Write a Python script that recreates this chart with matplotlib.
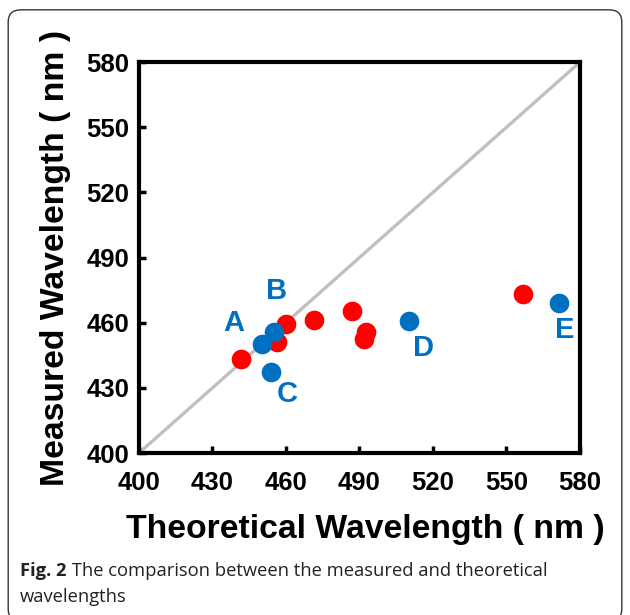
#!/usr/bin/env python3
"""Measured vs theoretical wavelength scatter (Fig. 2 recreation)."""

import matplotlib
matplotlib.use('Agg')
import matplotlib.pyplot as plt
from matplotlib.patches import FancyBboxPatch
from matplotlib.transforms import offset_copy

# red points (unlabelled samples)
red_theory = [441.5, 456.5, 459.9, 471.3, 487.0, 491.7, 492.7, 556.9]
red_measured = [443.4, 451.2, 459.5, 461.2, 465.5, 452.5, 455.5, 473.2]

# blue points with letter labels
blue_names = ['A', 'B', 'C', 'D', 'E']
blue_theory = [450.4, 455.1, 453.7, 510.1, 571.4]
blue_measured = [450.4, 455.5, 437.4, 460.9, 468.9]
# label offsets in points (dx, dy)
label_offsets = [(-21, 15), (2, 30), (12, -16), (10.5, -19.5), (4, -19.5)]

ticks = [400, 430, 460, 490, 520, 550, 580]

RED = '#ff0000'
BLUE = '#0070c0'
CAPTION = ['Open Sans', 'DejaVu Sans']

plt.rcParams['font.family'] = ['Liberation Sans', 'DejaVu Sans']

fig = plt.figure(figsize=(6.3, 6.15), dpi=100)
ax = fig.add_axes([0.2206, 0.2634, 0.7, 0.6356])

ax.plot([400, 580], [400, 580], color='#c0c0c0', lw=2.4, zorder=1)
ax.scatter(red_theory, red_measured, s=200, color=RED, lw=0, zorder=3)
ax.scatter(blue_theory, blue_measured, s=200, color=BLUE, lw=0, zorder=4)

for name, x, y, (dx, dy) in zip(blue_names, blue_theory, blue_measured, label_offsets):
    ax.annotate(name, (x, y), xytext=(dx, dy), textcoords='offset points',
                ha='center', va='center', fontsize=21, fontweight='bold',
                color=BLUE)

ax.set_xlim(400, 580)
ax.set_ylim(400, 580)
ax.set_xticks(ticks)
ax.set_yticks(ticks)
ax.tick_params(direction='in', length=5, width=2.5, labelsize=18.5)
ax.tick_params(axis='x', pad=13)
ax.tick_params(axis='y', pad=7)
for lbl in ax.get_xticklabels() + ax.get_yticklabels():
    lbl.set_fontweight('bold')
for sp in ax.spines.values():
    sp.set_linewidth(3)

ax.set_xlabel('Theoretical Wavelength ( nm )', fontsize=24.3, fontweight='bold')
ax.set_ylabel('Measured Wavelength ( nm )', fontsize=24.3, fontweight='bold', labelpad=11)
ax.xaxis.set_label_coords(0.513, -0.155)

# rounded frame around the figure
frame = FancyBboxPatch((0.013, -0.01), 0.974, 0.994,
                       boxstyle='round,pad=0,rounding_size=0.02',
                       transform=fig.transFigure, fill=False,
                       edgecolor='#333333', lw=1.0)
fig.patches.append(frame)

# caption: bold "Fig. 2" followed by regular text on the same line
renderer = fig.canvas.get_renderer()
fig_lbl = fig.text(0.032, 0.064, 'Fig. 2', fontsize=13.25, fontweight='bold',
                   family=CAPTION, color='#222222')
w = fig_lbl.get_window_extent(renderer).width
fig.text(0.032, 0.064, ' The comparison between the measured and theoretical',
         fontsize=13.25, family=CAPTION, color='#222222',
         transform=offset_copy(fig.transFigure, fig=fig, x=w, units='dots'))
fig.text(0.032, 0.021, 'wavelengths', fontsize=13.25, family=CAPTION, color='#222222')

fig.savefig('out.png', dpi=100)
